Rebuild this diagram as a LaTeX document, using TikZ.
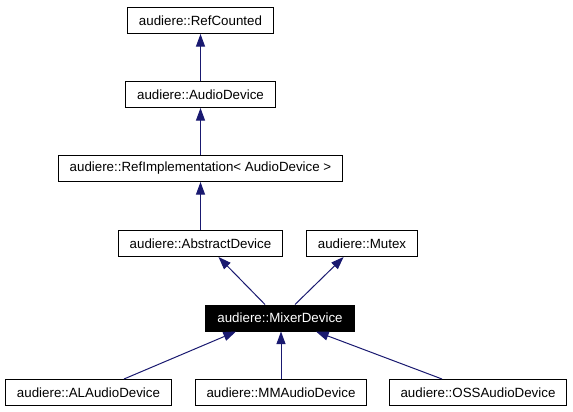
\documentclass[tikz,border=0pt]{standalone}
\usepackage{fontspec}
\setmainfont{Liberation Sans}
\usetikzlibrary{arrows.meta}
\definecolor{edgeblue}{RGB}{25,25,112}
\begin{document}
\begin{tikzpicture}[x=0.75pt,y=-0.75pt,
  cls/.style={draw,line width=0.75pt,inner xsep=8.6pt,minimum height=19.5pt,font=\fontsize{10}{12}\selectfont},
  this/.style={cls,fill=black,text=white},
  inherit/.style={edgeblue,line width=0.75pt,-{Triangle[length=9.5pt,width=6.8pt]}}]
\useasboundingbox (0,0) rectangle (573,411);
\node[cls] (refcounted) at (200.5,20.5) {audiere::RefCounted};
\node[cls] (audiodevice) at (200.5,94.5) {audiere::AudioDevice};
\node[cls] (refimpl) at (200.5,168.5) {audiere::RefImplementation< AudioDevice >};
\node[cls] (abstract) at (200.5,243.5) {audiere::AbstractDevice};
\node[cls] (mutex) at (362,243.5) {audiere::Mutex};
\node[this] (mixer) at (280,318) {audiere::MixerDevice};
\node[cls] (alaudio) at (88.5,392.5) {audiere::ALAudioDevice};
\node[cls] (mmaudio) at (281,392.5) {audiere::MMAudioDevice};
\node[cls] (ossaudio) at (478,392.5) {audiere::OSSAudioDevice};
\draw[inherit] (audiodevice) -- (refcounted);
\draw[inherit] (refimpl) -- (audiodevice);
\draw[inherit] (abstract) -- (refimpl);
\draw[inherit] ([xshift=-11.25pt]mixer.north) -- ([xshift=13.5pt]abstract.south);
\draw[inherit] ([xshift=11.25pt]mixer.north) -- ([xshift=-13.8pt]mutex.south);
\draw[inherit] ([xshift=26.6pt]alaudio.north) -- ([xshift=-33pt]mixer.south);
\draw[inherit] (mmaudio.north) -- (mmaudio.north |- mixer.south);
\draw[inherit] ([xshift=-27pt]ossaudio.north) -- ([xshift=27pt]mixer.south);
\end{tikzpicture}
\end{document}
